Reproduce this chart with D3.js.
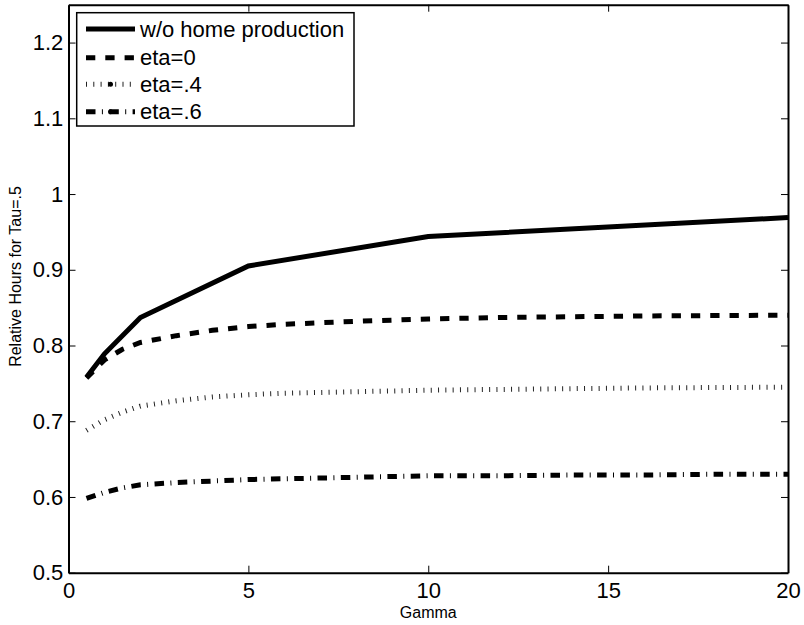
<!DOCTYPE html>
<html>
<head>
<meta charset="utf-8">
<script src="https://cdn.jsdelivr.net/npm/d3@7"></script>
<style>
  html, body { margin: 0; padding: 0; background: #fff; }
  #chart { width: 804px; height: 625px; }
  text { font-family: "Liberation Sans", Arial, Helvetica, sans-serif; fill: #000; }
</style>
</head>
<body>
<div id="chart"></div>
<script>
// values
const gammaCoarse = [0.5, 1, 2, 5, 10, 20];
const gammaFine = [0.5, 1, 1.5, 2, 3, 4, 5, 6, 8, 10, 12, 14, 16, 18, 20];

const noHomeValues = [0.758, 0.789, 0.837, 0.905, 0.944, 0.969];
const eta0Values = [0.757, 0.781, 0.795, 0.804, 0.813, 0.820, 0.825, 0.828, 0.832, 0.835, 0.837, 0.838, 0.839, 0.8395, 0.840];
const eta04Values = [0.688, 0.702, 0.712, 0.720, 0.727, 0.732, 0.735, 0.737, 0.739, 0.741, 0.742, 0.743, 0.744, 0.7445, 0.745];
const eta06Values = [0.598, 0.606, 0.612, 0.616, 0.619, 0.621, 0.623, 0.624, 0.626, 0.628, 0.628, 0.629, 0.629, 0.630, 0.630];

const seriesLabels = ["w/o home production", "eta=0", "eta=.4", "eta=.6"];
const xTicks = [0, 5, 10, 15, 20];
const yTicks = [0.5, 0.6, 0.7, 0.8, 0.9, 1, 1.1, 1.2];

const xLabel = "Gamma";
const yLabel = "Relative Hours for Tau=.5";

const styles = [
  { dash: null, width: 5, color: "#000" },
  { dash: "9.3,10", width: 5, color: "#000" },
  { dash: "1,6.3", width: 5, color: "#222" },
  { dash: "9.5,6.4,1,6.4", width: 5, color: "#000" },
];

const series = [
  { x: gammaCoarse, y: noHomeValues },
  { x: gammaFine, y: eta0Values },
  { x: gammaFine, y: eta04Values },
  { x: gammaFine, y: eta06Values },
].map((s, i) => ({
  label: seriesLabels[i],
  ...styles[i],
  values: s.x.map((g, j) => ({ g, v: s.y[j] })),
}));

const width = 804;
const height = 625;
const plot = { left: 68.5, right: 788, top: 4.7, bottom: 572.7 };

const x = d3.scaleLinear().domain([0, 20]).range([plot.left, plot.right]);
const y = d3.scaleLinear().domain([0.5, 1.25]).range([plot.bottom, plot.top]);

const svg = d3
  .select("#chart")
  .append("svg")
  .attr("width", width)
  .attr("height", height)
  .attr("viewBox", [0, 0, width, height]);

const line = d3
  .line()
  .x((d) => x(d.g))
  .y((d) => y(d.v));

svg
  .append("defs")
  .append("clipPath")
  .attr("id", "plot-clip")
  .append("rect")
  .attr("x", plot.left)
  .attr("y", plot.top)
  .attr("width", plot.right - plot.left)
  .attr("height", plot.bottom - plot.top);

const lines = svg.append("g").attr("clip-path", "url(#plot-clip)");

series.forEach((s) => {
  lines
    .append("path")
    .datum(s.values)
    .attr("fill", "none")
    .attr("stroke", s.color)
    .attr("stroke-width", s.width)
    .attr("stroke-linejoin", "miter")
    .attr("stroke-linecap", "butt")
    .attr("stroke-dasharray", s.dash)
    .attr("d", line);
});

const fontSize = 22;

const styleAxis = (axis) => {
  axis.select(".domain").attr("stroke", "#000").attr("stroke-width", 2);
  axis.selectAll(".tick line").attr("stroke", "#000").attr("stroke-width", 1);
  axis
    .selectAll(".tick text")
    .style("font-size", `${fontSize}px`)
    .style("font-family", '"Liberation Sans", Arial, Helvetica, sans-serif')
    .attr("fill", "#000");
};

svg
  .append("g")
  .attr("transform", `translate(0,${plot.bottom})`)
  .call(d3.axisBottom(x).tickValues(xTicks).tickSizeInner(-7).tickSizeOuter(0).tickPadding(9.7).tickFormat(d3.format("d")))
  .call(styleAxis);

svg
  .append("g")
  .attr("transform", `translate(0,${plot.top})`)
  .call(d3.axisTop(x).tickValues(xTicks).tickSizeInner(-7).tickSizeOuter(0).tickFormat(""))
  .call(styleAxis);

svg
  .append("g")
  .attr("transform", `translate(${plot.left},0)`)
  .call(d3.axisLeft(y).tickValues(yTicks).tickSizeInner(-7).tickSizeOuter(0).tickPadding(5.2).tickFormat((d) => String(+d.toFixed(1))))
  .call(styleAxis);

svg
  .append("g")
  .attr("transform", `translate(${plot.right},0)`)
  .call(d3.axisRight(y).tickValues(yTicks).tickSizeInner(-7).tickSizeOuter(0).tickFormat(""))
  .call(styleAxis);

svg
  .append("text")
  .attr("x", (plot.left + plot.right) / 2)
  .attr("y", 618)
  .attr("text-anchor", "middle")
  .style("font-size", "16px")
  .text(xLabel);

svg
  .append("text")
  .attr("transform", `translate(${15 + 5.7},${(185 + 368) / 2}) rotate(-90)`)
  .attr("text-anchor", "middle")
  .style("font-size", "16px")
  .text(yLabel);

// legend
const legend = svg.append("g");
const legendBox = { x: 76.7, y: 12.7, w: 277.3, h: 113.3 };

legend
  .append("rect")
  .attr("x", legendBox.x)
  .attr("y", legendBox.y)
  .attr("width", legendBox.w)
  .attr("height", legendBox.h)
  .attr("fill", "#fff")
  .attr("stroke", "#000")
  .attr("stroke-width", 1.5);

const rowY = [29, 57.7, 84.3, 111.7];

series.forEach((s, i) => {
  legend
    .append("line")
    .attr("x1", 86)
    .attr("x2", 135)
    .attr("y1", rowY[i])
    .attr("y2", rowY[i])
    .attr("stroke", s.color)
    .attr("stroke-width", s.width)
    .attr("stroke-dasharray", s.dash);

  if (i >= 2) {
    legend
      .append("circle")
      .attr("cx", 110.5)
      .attr("cy", rowY[i])
      .attr("r", 2.5)
      .attr("fill", "#000");
  }

  legend
    .append("text")
    .attr("x", 140)
    .attr("y", rowY[i] + 7.7)
    .style("font-size", `${fontSize}px`)
    .text(s.label);
});
</script>
</body>
</html>
